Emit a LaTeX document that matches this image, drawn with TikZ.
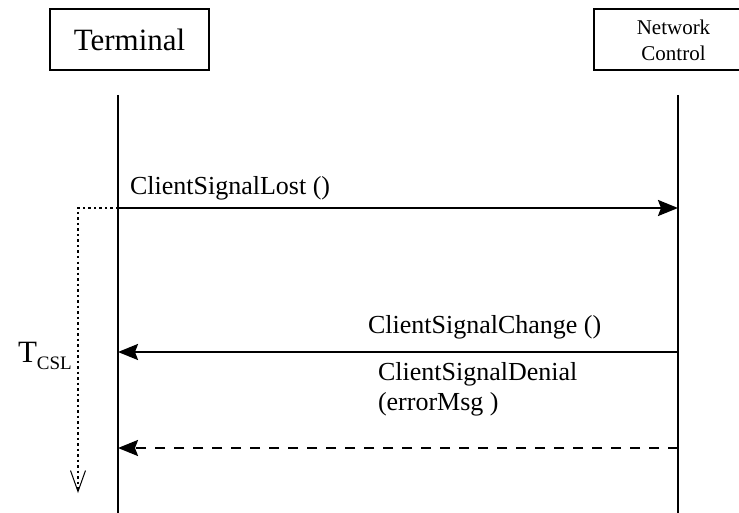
\documentclass[tikz,border=0pt]{standalone}
\usepackage{fontspec}
\setmainfont{Liberation Serif}
\usetikzlibrary{arrows.meta}

\begin{document}
\begin{tikzpicture}
        [x=1pt, y=-1pt, every node/.style={inner sep=0, outer sep=0},
         objbox/.style={draw, line width=2pt, minimum width=159pt, minimum height=61pt},
         life/.style={line width=2pt},
         msg/.style={line width=2.2pt, -{Stealth[length=20pt, width=16pt, inset=3pt]}},
         reply/.style={msg, dash pattern=on 10pt off 9pt},
         timer/.style={line width=1.8pt, dash pattern=on 2.5pt off 3pt, -{Straight Barb[length=21pt, width=15pt, line width=1pt]}},
         lbl/.style={anchor=base west, font=\fontsize{26}{30}\selectfont}]

        \useasboundingbox (0,0) rectangle (739,513);
        \clip (0,0) rectangle (739,513);

        \node[objbox, font=\fontsize{31}{36}\selectfont] (term) at (129.5,39.5) {Terminal};
        \node[objbox, align=center, font=\fontsize{21}{26}\selectfont] (net) at (673.5,40) {Network\\Control};

        \coordinate (t0) at (118,95);
        \coordinate (t1) at (118,513);
        \coordinate (n0) at (678,95);
        \coordinate (n1) at (678,513);
        \coordinate (t-lost) at (118,208);
        \coordinate (n-lost) at (678,208);
        \coordinate (t-chg) at (118,352);
        \coordinate (n-chg) at (678,352);
        \coordinate (t-den) at (118,448);
        \coordinate (n-den) at (678,448);
        \coordinate (tm0) at (78,208);
        \coordinate (tm1) at (78,493);

        \draw[life] (t0) -- (t1);
        \draw[life] (n0) -- (n1);

        \draw[timer] (t-lost) -- (tm0) -- (tm1);
        \draw[msg] (t-lost) -- (n-lost);
        \draw[msg] (n-chg) -- (t-chg);
        \draw[reply] (n-den) -- (t-den);

        \node[lbl] (lost) at (130,195) {ClientSignalLost ()};
        \node[lbl] (chg) at (368,333) {ClientSignalChange ()};
        \node[lbl, align=left] (den) at (378,410) {ClientSignalDenial\\(errorMsg )};
        \node[anchor=base west, font=\fontsize{31}{36}\selectfont] (tcsl) at (18,362)
          {T\raisebox{-7pt}{\fontsize{19}{19}\selectfont CSL}};
      \end{tikzpicture}
\end{document}
